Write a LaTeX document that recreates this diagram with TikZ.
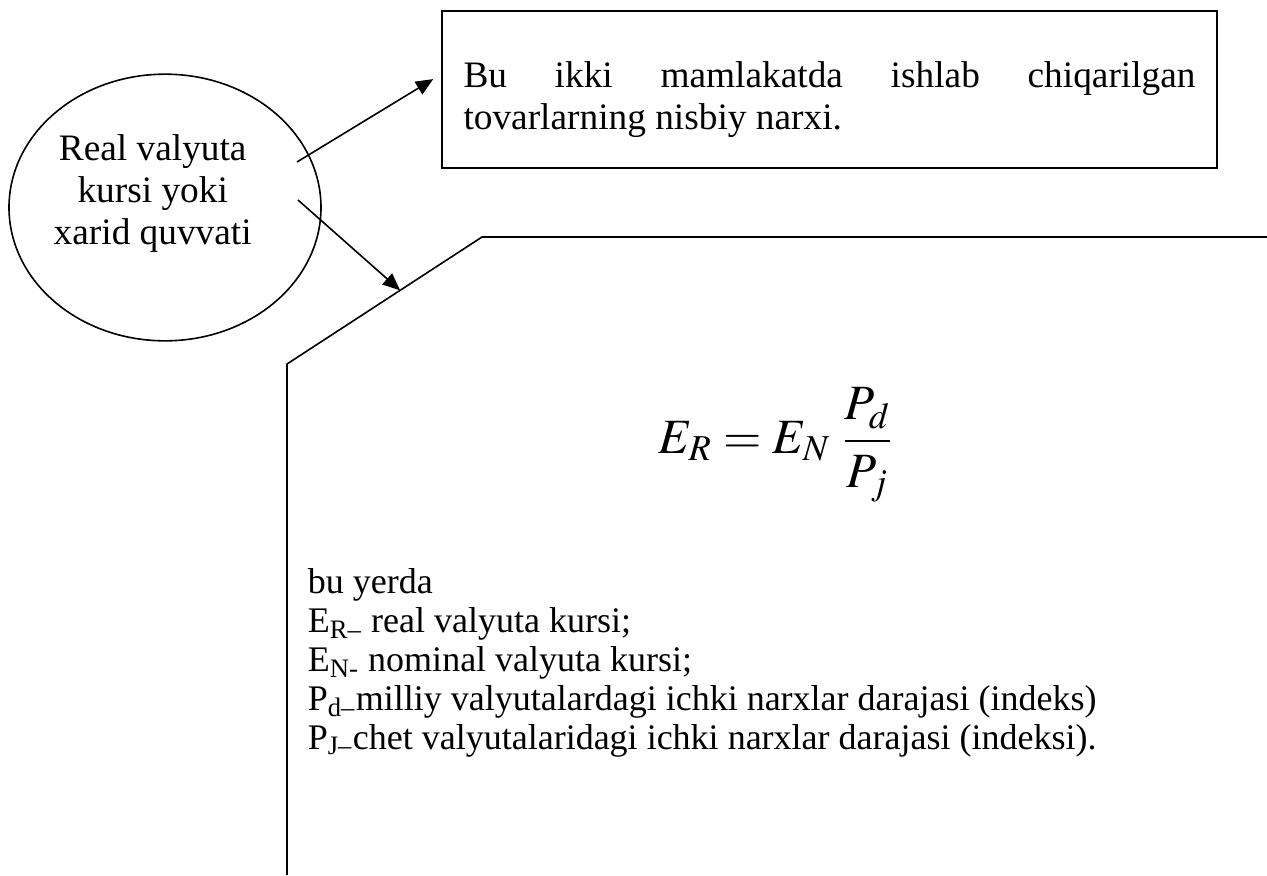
\documentclass[tikz,border=0pt]{standalone}
\usepackage{mathptmx}
\usepackage{fontspec}
\setmainfont{Liberation Serif}
\usetikzlibrary{shapes.geometric,arrows.meta,calc}
\begin{document}
\begin{tikzpicture}[
    x=0.375pt, y=-0.375pt,
    line width=0.6pt,
    oval/.style={
      draw,
      ellipse,
      minimum width=117pt,
      minimum height=100pt,
      inner sep=0pt
    },
    textbox/.style={
      draw,
      rectangle,
      minimum width=290.6pt,
      minimum height=58.9pt
    },
    boxtext/.style={
      text width=274.5pt,
      align=justify,
      inner sep=0pt,
      font=\fontsize{14}{15.75}\selectfont
    },
    pointer/.style={-{Triangle[length=6.5pt,width=5.5pt]}, line width=0.6pt}
  ]
  \useasboundingbox (0,0) rectangle (1267,875);

  \node[oval, label={[font=\fontsize{14}{15.75}\selectfont, align=center,
      xshift=-4.6pt, yshift=5.2pt]center:Real valyuta\\kursi yoki\\xarid quvvati}]
    (kurs) at (165,207.5) {};
  \node[textbox, label={[boxtext, yshift=-3.6pt]center:Bu ikki mamlakatda ishlab
      chiqarilgan\linebreak tovarlarning nisbiy narxi.}]
    (narx) at (829.5,89.5) {};

  % formula frame
  \coordinate (frameend) at (1267,237);
  \coordinate (framecorner) at (482,237);
  \coordinate (framelow) at (287,364);
  \coordinate (framebottom) at (287,875);
  \draw (frameend) -- (framecorner) -- (framelow) -- (framebottom);

  \node[font=\fontsize{18.5}{22}\selectfont] (formula) at (776,445)
    {$\displaystyle E_R = E_N\;\frac{P_d}{P_j}$};
  \node[anchor=north west, inner sep=0pt, align=left,
      font=\fontsize{13.5}{14.6}\selectfont]
    (izoh) at (307,568)
    {bu yerda\\
     E\textsubscript{R–} real valyuta kursi;\\
     E\textsubscript{N-} nominal valyuta kursi;\\
     P\textsubscript{d–}milliy valyutalardagi ichki narxlar darajasi (indeks)\\
     P\textsubscript{J–}chet valyutalaridagi ichki narxlar darajasi (indeksi).};

  \coordinate (kurs1) at (297,162);
  \coordinate (kurs2) at (298,200);
  \coordinate (hit) at ($(framecorner)!0.42!(framelow)$);
  \draw[pointer] (kurs1) -- ([xshift=-3pt,yshift=3.9pt]narx.west);
  \draw[pointer] (kurs2) -- (hit);
\end{tikzpicture}
\end{document}
